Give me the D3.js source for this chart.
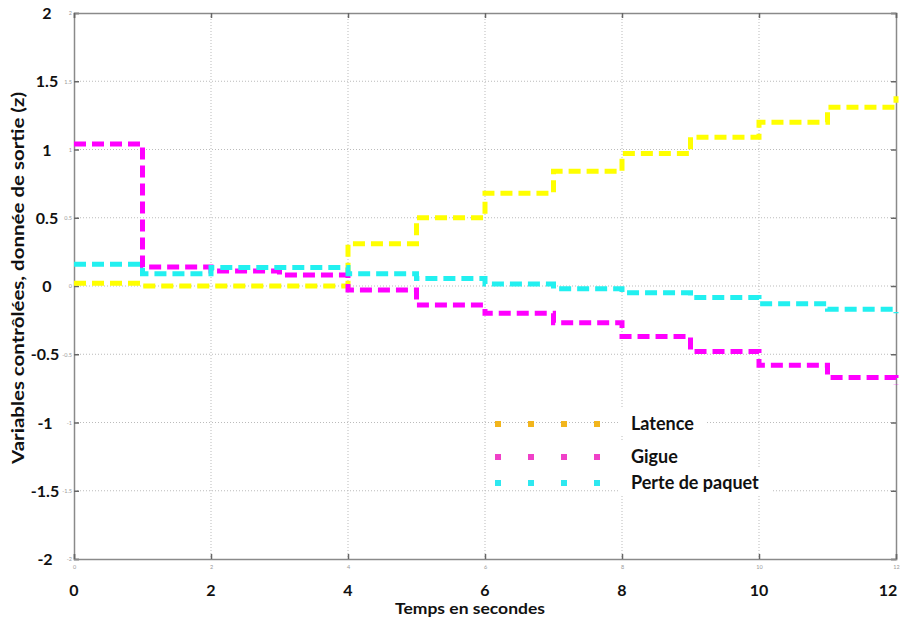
<!DOCTYPE html>
<html><head><meta charset="utf-8">
<script src="https://cdn.jsdelivr.net/npm/d3@7"></script>
<style>body{margin:0;background:#fff}svg{display:block}</style>
</head><body><svg id="c" width="904" height="620"></svg>
<script>
const time = [0,1,2,3,4,5,6,7,8,9,10,11,12];
const latence = [0.02,0.0,0.0,0.0,0.31,0.50,0.68,0.84,0.97,1.09,1.20,1.31,1.39];
const gigue = [1.04,0.14,0.11,0.08,-0.03,-0.14,-0.20,-0.27,-0.37,-0.48,-0.58,-0.67,-0.72];
const perte = [0.16,0.09,0.135,0.135,0.09,0.055,0.015,-0.02,-0.05,-0.085,-0.13,-0.17,-0.2];
const xTicks = [0,2,4,6,8,10,12];
const yTicks = [2,1.5,1,0.5,0,-0.5,-1,-1.5,-2];
const seriesNames = ["Latence","Gigue","Perte de paquet"];
const lineColors = ["#ffff00","#ff00ff","#22f0f0"];
const legendColors = ["#f2b51c","#f040c8","#2ee8f0"];

const svg = d3.select("#c");
const L=74,R=896,T=13,B=559;
const x = d3.scaleLinear().domain([0,12]).range([L,R]);
const y = d3.scaleLinear().domain([-2,2]).range([B,T]);
const font = "Lato, 'Open Sans', sans-serif";

// grid
svg.append("g").selectAll("line").data(xTicks.filter(d=>d>0&&d<12)).join("line")
  .attr("x1",d=>x(d)).attr("x2",d=>x(d)).attr("y1",T).attr("y2",B)
  .attr("stroke","#bbb").attr("stroke-dasharray","1,2");
svg.append("g").selectAll("line").data(yTicks.filter(d=>d>-2&&d<2)).join("line")
  .attr("y1",d=>y(d)).attr("y2",d=>y(d)).attr("x1",L).attr("x2",R)
  .attr("stroke","#bbb").attr("stroke-dasharray","1,2");

// axes (box) with inner ticks
const axisColor="#8a8a8a";
const ax = (g)=>g.call(s=>s.select(".domain").attr("stroke",axisColor).attr("stroke-width",1.5))
  .call(s=>s.selectAll(".tick line").attr("stroke","#666").attr("stroke-width",1.5))
  .call(s=>s.selectAll(".tick text").attr("fill","#999").attr("font-size",5.5).attr("font-family",font));
svg.append("g").attr("transform",`translate(${L},0)`)
  .call(d3.axisLeft(y).tickValues(yTicks).tickSize(-5).tickPadding(2).tickFormat(d=>d)).call(ax);
svg.append("g").attr("transform",`translate(${R},0)`)
  .call(d3.axisRight(y).tickValues(yTicks).tickSize(-5).tickFormat("")).call(ax);
svg.append("g").attr("transform",`translate(0,${B})`)
  .call(d3.axisBottom(x).tickValues(xTicks).tickSize(-5).tickPadding(6).tickFormat(d=>d)).call(ax);
svg.append("g").attr("transform",`translate(0,${T})`)
  .call(d3.axisTop(x).tickValues(xTicks).tickSize(-5).tickFormat("")).call(ax);

// big labels
svg.append("g").selectAll("text").data(yTicks).join("text")
  .attr("x",d=>d<0?45:47).attr("y",d=>y(d)+2).attr("text-anchor","middle").attr("dominant-baseline","middle")
  .attr("font-family",font).attr("font-weight","bold").attr("font-size",16).attr("fill","#111").text(d=>d);
svg.append("g").selectAll("text").data(xTicks).join("text")
  .attr("x",d=>d===12?x(d)-8:x(d)).attr("y",596).attr("text-anchor","middle")
  .attr("font-family",font).attr("font-weight","bold").attr("font-size",16).attr("fill","#111").text(d=>d);
svg.append("text").attr("x",470).attr("y",614).attr("text-anchor","middle")
  .attr("textLength",150).attr("lengthAdjust","spacingAndGlyphs")
  .attr("font-family",font).attr("font-weight","bold").attr("font-size",16).attr("fill","#111").text("Temps en secondes");
svg.append("text").attr("transform","translate(24,278) rotate(-90)").attr("text-anchor","middle")
  .attr("textLength",372).attr("lengthAdjust","spacingAndGlyphs")
  .attr("font-family",font).attr("font-weight","bold").attr("font-size",17).attr("fill","#111")
  .text("Variables contrôlées, donnée de sortie (z)");

// series
const data=[latence,gigue,perte];
const line=d3.line().x((d,i)=>x(time[i])).y(d=>y(d)).curve(d3.curveStepAfter);
data.forEach((s,k)=>{
  svg.append("path").datum(s).attr("d",line).attr("fill","none")
    .attr("stroke",lineColors[k]).attr("stroke-width",5).attr("stroke-dasharray","12,6");
});

// legend
const ly=[424,457,483];
const lg=svg.append("g");
const bgG=lg.append("g"), fgG=lg.append("g");
seriesNames.forEach((n,k)=>{
  [498,531,564,597].forEach(px=>{
    fgG.append("rect").attr("x",px-3).attr("y",ly[k]-3).attr("width",6).attr("height",6).attr("fill",legendColors[k]);
  });
  const t=fgG.append("text").attr("x",631).attr("y",ly[k]+6)
    .attr("font-family",font).attr("font-weight","bold").attr("font-size",18).attr("fill","#111").text(n);
  const bb=t.node().getBBox();
  bgG.append("rect").attr("x",bb.x-12).attr("y",bb.y-3).attr("width",bb.width+24).attr("height",bb.height+4).attr("fill","#fff");
});
</script></body></html>
